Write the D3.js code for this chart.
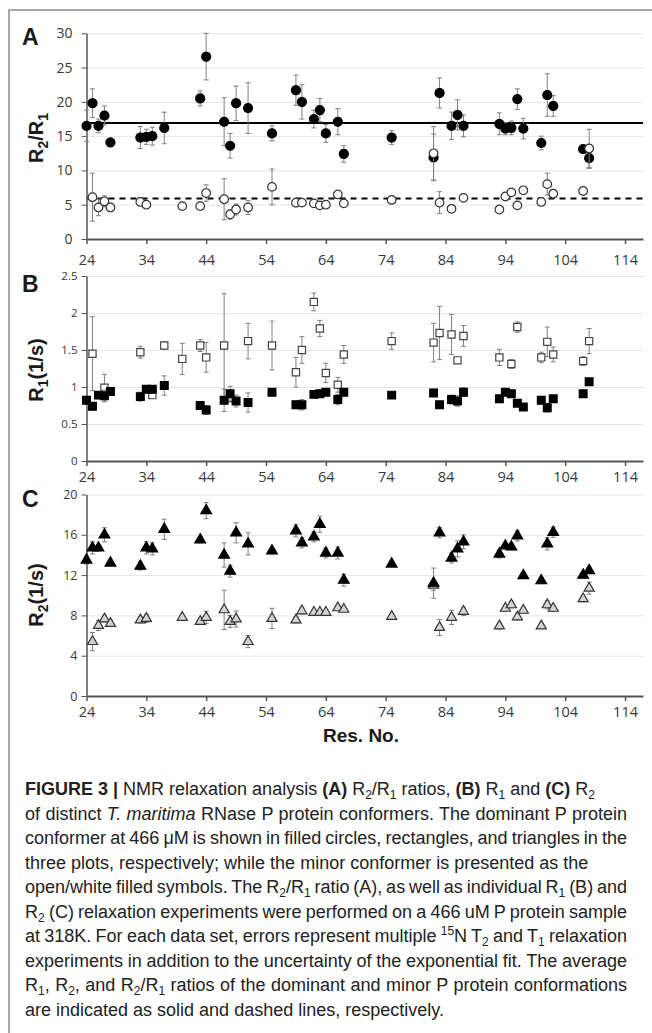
<!DOCTYPE html>
<html>
<head>
<meta charset="utf-8">
<script src="https://cdn.jsdelivr.net/npm/d3@7"></script>
<style>
  html, body { margin: 0; padding: 0; background: #fff; }
  svg { display: block; }
  .tick text { fill: #3a3a3a; font-family: "Open Sans", Lato, sans-serif; }
  .title { font-family: "Liberation Sans", Arial, sans-serif; font-weight: bold; fill: #1a1a1a; }
  .caption { font-family: "Liberation Sans", Arial, sans-serif; font-size: 18px; fill: #222; }
</style>
</head>
<body>
<div id="chart"></div>
<script>
// residue numbers
const resDominant = [24,25,26,27,28,33,34,35,37,43,44,47,48,49,51,55,59,60,62,63,64,66,67,75,82,83,85,86,87,93,94,95,96,97,100,101,102,107,108];
const resMinor = [25,26,27,28,33,34,40,43,44,47,48,49,51,55,59,60,62,63,64,66,67,75,82,83,85,87,93,94,95,96,97,100,101,102,107,108];
const resMinorR1 = [25,27,33,35,37,40,43,44,47,48,51,55,59,60,62,63,64,66,67,75,82,83,85,86,87,93,95,96,100,101,102,107,108];

// (A) R2/R1
const ratioDom = [16.5,19.8,16.5,18.0,14.1,14.8,14.9,15.0,16.2,20.5,26.6,17.1,13.6,19.8,19.1,15.4,21.7,20.0,17.5,18.8,15.4,17.1,12.4,14.8,11.9,21.3,16.5,18.1,16.5,16.8,16.1,16.2,20.4,16.1,14.0,21.0,19.4,13.1,11.8];
const ratioDomErr = [2.3,2.1,1.0,1.4,0.3,1.6,1.1,1.3,2.3,1.1,3.4,3.5,1.8,2.5,3.7,1.1,2.2,2.5,1.3,1.7,1.3,1.9,1.2,1.0,3.4,2.2,2.0,2.2,1.6,1.6,0.9,1.0,1.5,1.5,1.0,3.1,1.5,0.5,1.5];
const ratioMin = [6.1,4.6,5.5,4.6,5.4,5.0,4.8,4.8,6.7,5.8,3.6,4.3,4.6,7.6,5.3,5.3,5.2,4.9,5.0,6.5,5.2,5.7,12.5,5.3,4.4,6.0,4.3,6.2,6.8,4.9,7.1,5.4,8.0,6.6,7.0,13.2];
const ratioMinErr = [3.5,1.2,0.8,0.6,0.4,0.3,0.3,0.3,1.2,3.0,0.7,0.8,1.0,2.6,0.6,0.4,0.3,0.2,0.3,0.4,0.3,0.3,3.9,1.6,0.5,0.5,0.3,0.3,0.3,0.3,0.4,0.3,1.6,0.4,0.3,2.8];
const ratioMeans = [16.9, 5.9];

// (B) R1
const r1Dom = [0.82,0.74,0.89,0.88,0.94,0.87,0.97,0.97,1.02,0.75,0.69,0.82,0.91,0.81,0.79,0.93,0.76,0.76,0.90,0.91,0.93,0.83,0.93,0.89,0.92,0.76,0.83,0.81,0.93,0.84,0.93,0.91,0.78,0.73,0.82,0.72,0.84,0.91,1.07];
const r1DomErr = [0.05,0.05,0.05,0.08,0.04,0.06,0.05,0.05,0.13,0.04,0.06,0.15,0.1,0.08,0.13,0.04,0.05,0.07,0.04,0.04,0.05,0.07,0.04,0.04,0.05,0.04,0.06,0.07,0.06,0.05,0.04,0.04,0.04,0.03,0.05,0.06,0.04,0.04,0.04];
const r1Min = [1.45,0.99,1.47,0.89,1.56,1.38,1.56,1.40,1.56,0.85,1.62,1.56,1.20,1.50,2.15,1.79,1.19,1.03,1.44,1.62,1.60,1.73,1.71,1.36,1.69,1.40,1.31,1.81,1.40,1.61,1.44,1.35,1.62];
const r1MinErr = [0.5,0.18,0.08,0.04,0.05,0.21,0.08,0.2,0.7,0.05,0.24,0.33,0.2,0.18,0.12,0.11,0.13,0.1,0.12,0.11,0.26,0.36,0.27,0.04,0.14,0.11,0.06,0.07,0.07,0.2,0.1,0.06,0.17];

// (C) R2
const r2Dom = [13.5,14.7,14.7,16.0,13.2,12.9,14.7,14.6,16.55,15.5,18.4,14.0,12.4,16.2,15.1,14.4,16.4,15.2,15.8,17.05,14.2,14.2,11.5,13.1,11.2,16.2,13.7,14.6,15.3,14.1,14.9,14.8,15.9,11.95,11.45,15.1,16.25,12.0,12.45];
const r2DomErr = [0.4,0.6,0.3,0.7,0.2,0.4,0.6,0.6,1.0,0.3,0.8,1.2,0.6,1.0,1.1,0.3,0.6,0.5,0.5,0.8,0.5,0.6,0.6,0.2,1.5,0.5,0.5,0.8,0.7,0.4,0.3,0.3,0.5,0.3,0.3,0.6,0.5,0.3,0.3];
const r2Min = [5.4,7.0,7.65,7.2,7.55,7.7,7.8,7.4,7.8,8.55,7.4,7.65,5.4,7.7,7.55,8.45,8.3,8.3,8.3,8.75,8.6,7.9,11.0,6.8,7.8,8.4,6.95,8.7,9.05,7.85,8.5,6.95,9.05,8.7,9.65,10.7];
const r2MinErr = [0.9,0.5,0.3,0.3,0.3,0.4,0.2,0.2,0.6,1.95,0.6,0.8,0.6,1.0,0.3,0.3,0.2,0.2,0.2,0.2,0.2,0.2,0.5,0.8,0.7,0.4,0.3,0.3,0.3,0.3,0.3,0.2,0.4,0.3,0.3,0.6];

const xTicks = [24,34,44,54,64,74,84,94,104,114];
const ticksA = [0,5,10,15,20,25,30];
const ticksB = [0,0.5,1,1.5,2,2.5];
const ticksC = [0,4,8,12,16,20];

const W = 652, H = 1033;
const svg = d3.select('#chart').append('svg').attr('width', W).attr('height', H);

// figure frame
svg.append('path').attr('d', 'M9,1033V10H652')
  .attr('fill', 'none').attr('stroke', '#8c8c8c').attr('stroke-width', 1.5);

const x = d3.scaleLinear().domain([24, 117]).range([86.5, 643]);

const zip = (res, val, err) => res.map((r, i) => ({ r, v: val[i], e: err[i] }));

const panels = [
  {
    letter: 'A', letterY: 45, range: [239, 33.3], domain: [0, 30], ticks: ticksA,
    yFont: 14, yPad: 9, xLabelY: 26,
    title: [['R'], ['2', 'sub'], ['/R'], ['1', 'sub']], titleY: 138,
    series: [
      { data: zip(resDominant, ratioDom, ratioDomErr), shape: d3.symbolCircle, size: 64, fill: '#000', stroke: '#000' },
      { data: zip(resMinor, ratioMin, ratioMinErr), shape: d3.symbolCircle, size: 58, fill: '#fff', stroke: '#333' }
    ],
    means: ratioMeans
  },
  {
    letter: 'B', letterY: 292, range: [461, 276], domain: [0, 2.5], ticks: ticksB,
    yFont: 11.5, yPad: 4, xLabelY: 21,
    title: [['R'], ['1', 'sub'], ['(1/s)']], titleY: 370,
    series: [
      { data: zip(resMinorR1, r1Min, r1MinErr), shape: d3.symbolSquare, size: 52, fill: '#fff', stroke: '#444' },
      { data: zip(resDominant, r1Dom, r1DomErr), shape: d3.symbolSquare, size: 60, fill: '#000', stroke: '#000' }
    ]
  },
  {
    letter: 'C', letterY: 507, range: [696, 494.5], domain: [0, 20], ticks: ticksC,
    yFont: 12.5, yPad: 4, xLabelY: 21,
    title: [['R'], ['2', 'sub'], ['(1/s)']], titleY: 595,
    series: [
      { data: zip(resMinor, r2Min, r2MinErr), shape: d3.symbolTriangle, size: 44, fill: '#d4d4d4', stroke: '#333' },
      { data: zip(resDominant, r2Dom, r2DomErr), shape: d3.symbolTriangle, size: 50, fill: '#000', stroke: '#000' }
    ]
  }
];

panels.forEach(p => {
  const y = d3.scaleLinear().domain(p.domain).range(p.range);
  const g = svg.append('g');

  // gridlines
  g.append('g')
    .attr('transform', `translate(${x.range()[0]},0)`)
    .call(d3.axisLeft(y).tickValues(p.ticks).tickSize(-(x.range()[1] - x.range()[0])).tickFormat(''))
    .call(a => a.select('.domain').remove())
    .call(a => a.selectAll('.tick line').attr('stroke', '#e6e6e6'));

  // mean lines
  (p.means || []).forEach((m, i) => {
    g.append('line')
      .attr('x1', x.range()[0]).attr('x2', x.range()[1])
      .attr('y1', y(m)).attr('y2', y(m))
      .attr('stroke', '#000').attr('stroke-width', 2)
      .attr('stroke-dasharray', i === 0 ? null : '6,5');
  });

  // y axis
  g.append('g')
    .attr('transform', `translate(${x.range()[0]},0)`)
    .call(d3.axisLeft(y).tickValues(p.ticks).tickFormat(d3.format('~g'))
      .tickSize(5).tickSizeOuter(0).tickPadding(p.yPad))
    .call(a => a.select('.domain').attr('stroke', '#555').attr('stroke-width', 1.5))
    .call(a => a.selectAll('.tick line').attr('stroke', '#555'))
    .call(a => a.selectAll('.tick text').style('font-size', p.yFont + 'px'));

  // x axis
  g.append('g')
    .attr('transform', `translate(0,${p.range[0]})`)
    .call(d3.axisBottom(x).tickValues(xTicks).tickSize(5).tickSizeOuter(0))
    .call(a => a.select('.domain').attr('stroke', '#555').attr('stroke-width', 2))
    .call(a => a.selectAll('.tick line').attr('stroke', '#555').attr('stroke-width', 1.5))
    .call(a => a.selectAll('.tick text').attr('y', p.xLabelY).attr('dy', null).style('font-size', '14.5px'));

  // series
  p.series.forEach(s => {
    const sg = g.append('g');
    const eb = sg.selectAll('.eb').data(s.data).enter().append('g')
      .attr('stroke', '#808080').attr('stroke-width', 1);
    eb.append('line')
      .attr('x1', d => x(d.r)).attr('x2', d => x(d.r))
      .attr('y1', d => y(d.v - d.e)).attr('y2', d => y(d.v + d.e));
    [-1, 1].forEach(sgn => {
      eb.append('line')
        .attr('x1', d => x(d.r) - 2.5).attr('x2', d => x(d.r) + 2.5)
        .attr('y1', d => y(d.v + sgn * d.e)).attr('y2', d => y(d.v + sgn * d.e));
    });
    sg.selectAll('.pt').data(s.data).enter().append('path')
      .attr('d', d3.symbol().type(s.shape).size(s.size))
      .attr('transform', d => `translate(${x(d.r)},${y(d.v)})`)
      .attr('fill', s.fill).attr('stroke', s.stroke).attr('stroke-width', 1.2);
  });

  // panel letter
  svg.append('text').attr('class', 'title')
    .attr('x', 22).attr('y', p.letterY).style('font-size', '23px').text(p.letter);

  // y title
  const t = svg.append('text').attr('class', 'title')
    .attr('transform', `translate(43,${p.titleY}) rotate(-90)`)
    .attr('text-anchor', 'middle').style('font-size', '20px');
  p.title.forEach(([txt, kind], i) => {
    const ts = t.append('tspan').text(txt);
    if (kind === 'sub') ts.attr('dy', 5).style('font-size', '14px');
    else if (i > 0 && p.title[i - 1][1] === 'sub') ts.attr('dy', -5);
  });
});

// x title
svg.append('text').attr('class', 'title')
  .attr('x', 361).attr('y', 742).attr('text-anchor', 'middle')
  .style('font-size', '19px').text('Res. No.');

// caption: [text, style] segments per line, justified flag
const captionLines = [
  [false, [['FIGURE 3 | ', 'b'], ['NMR relaxation analysis '], ['(A)', 'b'], [' R'], ['2', 'sub'], ['/R'], ['1', 'sub'], [' ratios, '], ['(B)', 'b'], [' R'], ['1', 'sub'], [' and '], ['(C)', 'b'], [' R'], ['2', 'sub']]],
  [true, [['of distinct '], ['T. maritima', 'i'], [' RNase P protein conformers. The dominant P protein']]],
  [true, [['conformer at 466 μM is shown in filled circles, rectangles, and triangles in the']]],
  [false, [['three plots, respectively; while the minor conformer is presented as the']]],
  [true, [['open/white filled symbols. The R'], ['2', 'sub'], ['/R'], ['1', 'sub'], [' ratio (A), as well as individual R'], ['1', 'sub'], [' (B) and']]],
  [true, [['R'], ['2', 'sub'], [' (C) relaxation experiments were performed on a 466 uM P protein sample']]],
  [true, [['at 318K. For each data set, errors represent multiple '], ['15', 'sup'], ['N T'], ['2', 'sub'], [' and T'], ['1', 'sub'], [' relaxation']]],
  [true, [['experiments in addition to the uncertainty of the exponential fit. The average']]],
  [true, [['R'], ['1', 'sub'], [', R'], ['2', 'sub'], [', and R'], ['2', 'sub'], ['/R'], ['1', 'sub'], [' ratios of the dominant and minor P protein conformations']]],
  [false, [['are indicated as solid and dashed lines, respectively.']]]
];

const capX = 25, capW = 602, capY0 = 795, capStep = 24.5;
captionLines.forEach(([just, segs], li) => {
  const t = svg.append('text').attr('class', 'caption')
    .attr('x', capX).attr('y', capY0 + li * capStep);
  let shift = 0;
  segs.forEach(([txt, kind]) => {
    const ts = t.append('tspan').text(txt);
    let target = 0;
    if (kind === 'sub') { target = 4; ts.style('font-size', '12px'); }
    if (kind === 'sup') { target = -7; ts.style('font-size', '12px'); }
    if (kind === 'b') ts.style('font-weight', 'bold');
    if (kind === 'i') ts.style('font-style', 'italic');
    if (target !== shift) { ts.attr('dy', target - shift); shift = target; }
  });
  if (just) {
    const len = t.node().getComputedTextLength();
    const spaces = segs.map(s => s[0]).join('').split(' ').length - 1;
    t.style('word-spacing', ((capW - len) / spaces) + 'px');
  }
});
</script>
</body>
</html>
